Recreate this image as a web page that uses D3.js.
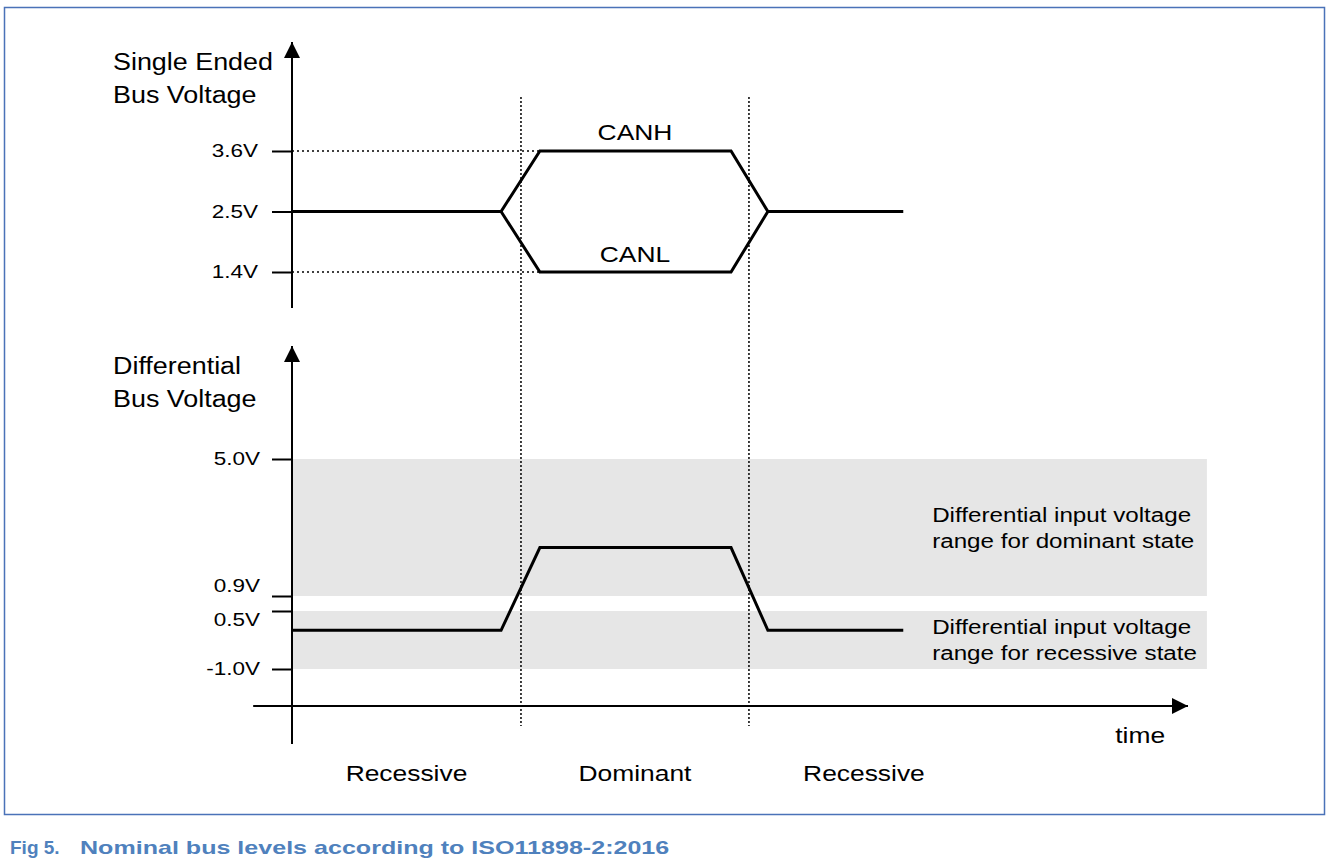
<!DOCTYPE html>
<html>
<head>
<meta charset="utf-8">
<script src="https://cdn.jsdelivr.net/npm/d3@7"></script>
<style>
  body { margin: 0; background: #fff; }
  text { font-family: Arial, "Liberation Sans", sans-serif; fill: #000; }
</style>
</head>
<body>
<svg id="chart" width="1326" height="864"></svg>
<script>
// time is in arbitrary units, voltages in V
const phaseBounds = [0, 2.30, 4.59, 6.90];
const phaseLabels = ['Recessive', 'Dominant', 'Recessive'];

const seTicks = [3.6, 2.5, 1.4];
const seTickLabels = ['3.6V', '2.5V', '1.4V'];
const canhPoints = [[0, 2.5], [2.10, 2.5], [2.49, 3.6], [4.41, 3.6], [4.78, 2.5], [6.14, 2.5]];
const canlPoints = [[2.10, 2.5], [2.49, 1.4], [4.41, 1.4], [4.78, 2.5]];
const seGuides = [3.6, 1.4];

const diffTicks = [5.0, 0.9, 0.5, -1.0];
const diffTickLabels = ['5.0V', '0.9V', '0.5V', '-1.0V'];
const diffPoints = [[0, 0], [2.10, 0], [2.49, 2.35], [4.41, 2.35], [4.78, 0], [6.14, 0]];
const bandRanges = [[0.9, 5.0], [-1.0, 0.5]];
const bandLabels = [
  ['Differential input voltage', 'range for dominant state'],
  ['Differential input voltage', 'range for recessive state']
];

const captionNum = 'Fig 5.';
const captionText = 'Nominal bus levels according to ISO11898-2:2016';

const svg = d3.select('#chart');

const x = d3.scaleLinear().domain([0, 9]).range([292, 1188]);
const ySE = d3.scaleLinear().domain([1.4, 3.6]).range([272, 151]);
// the lower axis is not to scale, so piecewise
const yDiff = d3.scaleLinear().domain([-1.0, 0.5, 0.9, 5.0]).range([669, 611, 596, 459]);

const blue = '#4a72b8';

// the source figure's lettering is a bit wider than Arial, stretch it around its anchor
function stretch (sel, sx) {
  sel.attr('transform', function () {
    const t = d3.select(this);
    const ax = +t.attr('x') || 0;
    const ay = +t.attr('y') || 0;
    return `translate(${ax},${ay}) scale(${sx},1) translate(${-ax},${-ay})`;
  });
}

// frame
svg.append('rect')
  .attr('x', 4.5).attr('y', 7.5)
  .attr('width', 1320).attr('height', 807)
  .attr('fill', 'none')
  .attr('stroke', blue)
  .attr('stroke-width', 1.5);

// caption
svg.append('text')
  .attr('x', 10).attr('y', 854)
  .style('font-weight', 'bold')
  .style('font-size', '19px')
  .style('fill', '#4f81bd')
  .text(captionNum);
svg.append('text')
  .attr('x', 80).attr('y', 854)
  .style('font-weight', 'bold')
  .style('font-size', '19px')
  .style('fill', '#4f81bd')
  .text(captionText)
  .call(stretch, 1.32);

// grey bands
svg.append('g')
  .selectAll('rect')
  .data(bandRanges)
  .enter()
  .append('rect')
  .attr('x', x(0))
  .attr('y', d => yDiff(d[1]))
  .attr('width', x(9.19) - x(0))
  .attr('height', d => yDiff(d[0]) - yDiff(d[1]))
  .attr('fill', '#e6e6e6');

bandLabels.forEach((lines, i) => {
  const mid = (yDiff(bandRanges[i][0]) + yDiff(bandRanges[i][1])) / 2;
  const t = svg.append('text')
    .attr('x', x(6.43))
    .attr('y', i === 0 ? mid : mid - 1)
    .style('font-size', '20px');
  lines.forEach((s, j) => {
    t.append('tspan')
      .attr('x', x(6.43))
      .attr('dy', j === 0 ? '-0.25em' : '1.3em')
      .text(s);
  });
  t.call(stretch, 1.21);
});

// arrow marker
svg.append('defs')
  .append('marker')
  .attr('id', 'arrow')
  .attr('viewBox', '0 0 10 10')
  .attr('refX', 10).attr('refY', 5)
  .attr('markerWidth', 17).attr('markerHeight', 16)
  .attr('markerUnits', 'userSpaceOnUse')
  .attr('orient', 'auto')
  .append('path')
  .attr('d', 'M0,0 L10,5 L0,10 Z')
  .attr('fill', '#000');

// axes lines
svg.append('line')
  .attr('x1', x(0)).attr('x2', x(0))
  .attr('y1', 308).attr('y2', 42)
  .attr('stroke', '#000').attr('stroke-width', 2)
  .attr('marker-end', 'url(#arrow)');

svg.append('line')
  .attr('x1', x(0)).attr('x2', x(0))
  .attr('y1', 744).attr('y2', 346)
  .attr('stroke', '#000').attr('stroke-width', 2)
  .attr('marker-end', 'url(#arrow)');

svg.append('line')
  .attr('x1', x(-0.39)).attr('x2', x(9))
  .attr('y1', 706).attr('y2', 706)
  .attr('stroke', '#000').attr('stroke-width', 2)
  .attr('marker-end', 'url(#arrow)');

// ticks
function styleAxis (g) {
  g.select('.domain').remove();
  g.selectAll('.tick line').attr('stroke', '#000').attr('stroke-width', 2);
  g.selectAll('.tick text')
    .style('font-size', '18px')
    .attr('font-family', null);
}

svg.append('g')
  .attr('transform', `translate(${x(0)},0)`)
  .call(d3.axisLeft(ySE)
    .tickValues(seTicks)
    .tickSize(20)
    .tickPadding(14)
    .tickFormat((d, i) => seTickLabels[i]))
  .call(styleAxis)
  .selectAll('.tick text')
  .call(stretch, 1.25);

const labelShift = { '0.9': -10, '0.5': 9 };
svg.append('g')
  .attr('transform', `translate(${x(0)},0)`)
  .call(d3.axisLeft(yDiff)
    .tickValues(diffTicks)
    .tickSize(20)
    .tickPadding(12)
    .tickFormat((d, i) => diffTickLabels[i]))
  .call(styleAxis)
  .selectAll('.tick text')
  .attr('y', d => labelShift[String(d)] || 0)
  .call(stretch, 1.25);

// axis titles
function title (lines, top) {
  const t = svg.append('text')
    .attr('x', 113).attr('y', top)
    .style('font-size', '23px');
  lines.forEach((s, j) => {
    t.append('tspan').attr('x', 113).attr('dy', j === 0 ? 0 : 33).text(s);
  });
  t.call(stretch, 1.17);
}
title(['Single Ended', 'Bus Voltage'], 70);
title(['Differential', 'Bus Voltage'], 374);

// guide lines
svg.append('g')
  .selectAll('line')
  .data(seGuides)
  .enter()
  .append('line')
  .attr('x1', x(0)).attr('x2', x(2.49))
  .attr('y1', d => ySE(d)).attr('y2', d => ySE(d))
  .attr('stroke', '#000').attr('stroke-width', 1.3)
  .attr('stroke-dasharray', '2,3');

svg.append('g')
  .selectAll('line')
  .data(phaseBounds.slice(1, 3))
  .enter()
  .append('line')
  .attr('x1', d => x(d)).attr('x2', d => x(d))
  .attr('y1', 97).attr('y2', 726)
  .attr('stroke', '#000').attr('stroke-width', 1.5)
  .attr('stroke-dasharray', '2,2');

// signals
const seLine = d3.line().x(d => x(d[0])).y(d => ySE(d[1]));
const diffLine = d3.line().x(d => x(d[0])).y(d => yDiff(d[1]));

[canhPoints, canlPoints].forEach(pts => {
  svg.append('path')
    .attr('d', seLine(pts))
    .attr('fill', 'none')
    .attr('stroke', '#000')
    .attr('stroke-width', 3);
});

svg.append('path')
  .attr('d', diffLine(diffPoints))
  .attr('fill', 'none')
  .attr('stroke', '#000')
  .attr('stroke-width', 3);

// signal labels
const midDom = (phaseBounds[1] + phaseBounds[2]) / 2;
svg.append('text')
  .attr('x', x(midDom)).attr('y', ySE(3.6) - 11)
  .attr('text-anchor', 'middle')
  .style('font-size', '22px')
  .text('CANH')
  .call(stretch, 1.2);
svg.append('text')
  .attr('x', x(midDom)).attr('y', ySE(1.4) - 10)
  .attr('text-anchor', 'middle')
  .style('font-size', '22px')
  .text('CANL')
  .call(stretch, 1.2);

// phase labels
svg.append('g')
  .selectAll('text')
  .data(phaseLabels)
  .enter()
  .append('text')
  .attr('x', (d, i) => x((phaseBounds[i] + phaseBounds[i + 1]) / 2))
  .attr('y', 781)
  .attr('text-anchor', 'middle')
  .style('font-size', '22px')
  .text(d => d)
  .call(stretch, 1.2);

svg.append('text')
  .attr('x', x(8.52)).attr('y', 743)
  .attr('text-anchor', 'middle')
  .style('font-size', '22px')
  .text('time')
  .call(stretch, 1.2);
</script>
</body>
</html>
